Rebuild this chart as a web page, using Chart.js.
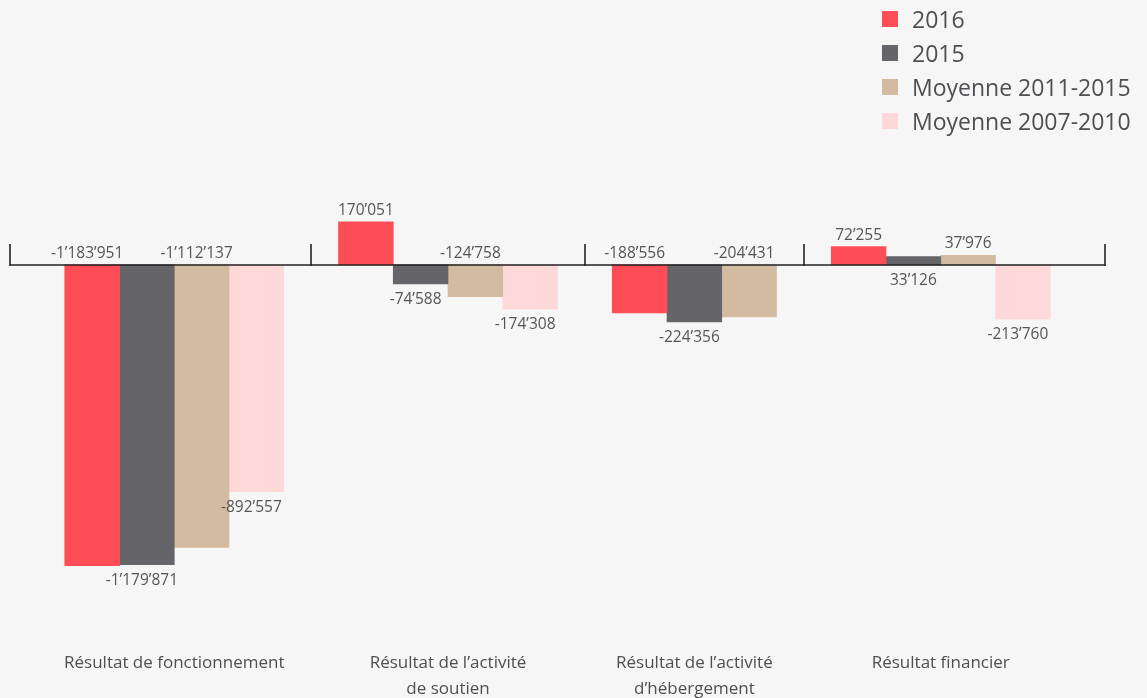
<!DOCTYPE html>
<html>
<head>
<meta charset="utf-8">
<script src="https://cdn.jsdelivr.net/npm/chart.js@4.4.1/dist/chart.umd.min.js"></script>
<style>
  html, body { margin: 0; padding: 0; background: #f6f6f6; }
  #wrap { position: relative; width: 1147px; height: 698px; }
  #c { position: absolute; left: 0; top: 0; }
  #legend { position: absolute; left: 882px; top: 2px; font-family: "Open Sans", sans-serif; font-size: 23px; color: #4f4e52; }
  .item { display: flex; align-items: center; height: 34px; white-space: nowrap; }
  .sw { width: 16px; height: 16px; margin-right: 14px; flex: none; }
</style>
</head>
<body>
<div id="wrap">
  <canvas id="c" width="1147" height="698"></canvas>
  <div id="legend"></div>
</div>
<script>
// ---- data ----
const categories = [
  ['Résultat de fonctionnement'],
  ['Résultat de l’activité', 'de soutien'],
  ['Résultat de l’activité', 'd’hébergement'],
  ['Résultat financier']
];
const seriesNames = ['2016', '2015', 'Moyenne 2011-2015', 'Moyenne 2007-2010'];
const values2016 = [-1183951, 170051, -188556, 72255];
const values2015 = [-1179871, -74588, -224356, 33126];
const valuesMoy2011_2015 = [-1112137, -124758, -204431, 37976];
const valuesMoy2007_2010 = [-892557, -174308, null, -213760];
const seriesColors = ['#ff4d57', '#656468', '#d3bba2', '#ffd9da'];

// ---- layout slots (bars side by side, one empty slot between groups) ----
const series = [values2016, values2015, valuesMoy2011_2015, valuesMoy2007_2010];
let slot = 1;
const groupStart = [], groupEnd = [];
const slotX = series.map(() => []);
categories.forEach((c, i) => {
  groupStart.push(slot);
  series.forEach((s, k) => {
    if (s[i] !== null) { slotX[k][i] = slot + 0.5; slot++; } else { slotX[k][i] = null; }
  });
  groupEnd.push(slot);
  slot++;
});
const xMax = slot;
const labelCenters = groupStart.map((s, i) => (s + groupEnd[i]) / 2);
const separators = [0];
for (let i = 0; i < categories.length - 1; i++) separators.push((groupEnd[i] + groupStart[i + 1]) / 2);
separators.push(xMax);

function fmt(v) {
  const s = Math.abs(v).toString().replace(/\B(?=(\d{3})+(?!\d))/g, '’');
  return (v < 0 ? '-' : '') + s;
}

const datasets = series.map((s, k) => ({
  label: seriesNames[k],
  backgroundColor: seriesColors[k],
  borderWidth: 0,
  data: s.map((v, i) => v === null ? null : { x: slotX[k][i], y: v }).filter(d => d !== null),
  grouped: false,
  barPercentage: 1,
  categoryPercentage: 1
}));

const overlay = {
  id: 'overlay',
  afterDatasetsDraw(chart) {
    const { ctx, scales: { x, y } } = chart;
    const y0 = Math.round(y.getPixelForValue(0));
    ctx.save();
    ctx.strokeStyle = '#222222';
    ctx.lineWidth = 1.6;
    ctx.beginPath();
    ctx.moveTo(x.getPixelForValue(0), y0);
    ctx.lineTo(x.getPixelForValue(xMax), y0);
    ctx.stroke();
    separators.forEach(v => {
      const px = Math.round(x.getPixelForValue(v));
      ctx.beginPath();
      ctx.moveTo(px, y0 - 21);
      ctx.lineTo(px, y0 + 1);
      ctx.stroke();
    });
    ctx.font = '15.5px "Open Sans"';
    ctx.fillStyle = '#555458';
    ctx.textAlign = 'center';
    ctx.textBaseline = 'alphabetic';
    chart.data.datasets.forEach((ds, k) => {
      const meta = chart.getDatasetMeta(k);
      meta.data.forEach((bar, j) => {
        const v = ds.data[j].y;
        const top = Math.min(bar.y, bar.base);
        const bottom = Math.max(bar.y, bar.base);
        const tx = bar.x + (v < 0 ? -5 : 0);
        if (k % 2 === 0) ctx.fillText(fmt(v), tx, top - 7);
        else ctx.fillText(fmt(v), tx, bottom + 20);
      });
    });
    ctx.restore();
  }
};

const chart = new Chart(document.getElementById('c'), {
  type: 'bar',
  data: { datasets },
  options: {
    responsive: false,
    animation: false,
    devicePixelRatio: 1,
    layout: { padding: { left: 10, right: 42, top: 160, bottom: 0 } },
    plugins: { legend: { display: false }, tooltip: { enabled: false } },
    scales: {
      x: {
        type: 'linear',
        offset: false,
        min: 0,
        max: xMax,
        grid: { display: false, offset: false },
        border: { display: false },
        afterBuildTicks(scale) { scale.ticks = labelCenters.map(v => ({ value: v })); },
        afterFit(scale) { scale.paddingLeft = 0; scale.paddingRight = 0; scale.height = 58; },
        ticks: {
          autoSkip: false,
          maxRotation: 0,
          padding: 2,
          color: '#4f4e52',
          font: { family: '"Open Sans"', size: 17, lineHeight: 1.53 },
          callback: (value, index) => categories[index]
        }
      },
      y: {
        display: false,
        min: -1476000,
        max: 413000
      }
    }
  },
  plugins: [overlay]
});

// HTML legend built from the chart's datasets
const leg = document.getElementById('legend');
chart.data.datasets.forEach(ds => {
  const it = document.createElement('div');
  it.className = 'item';
  const sw = document.createElement('span');
  sw.className = 'sw';
  sw.style.background = ds.backgroundColor;
  const tx = document.createElement('span');
  tx.textContent = ds.label;
  it.appendChild(sw);
  it.appendChild(tx);
  leg.appendChild(it);
});
</script>
</body>
</html>
